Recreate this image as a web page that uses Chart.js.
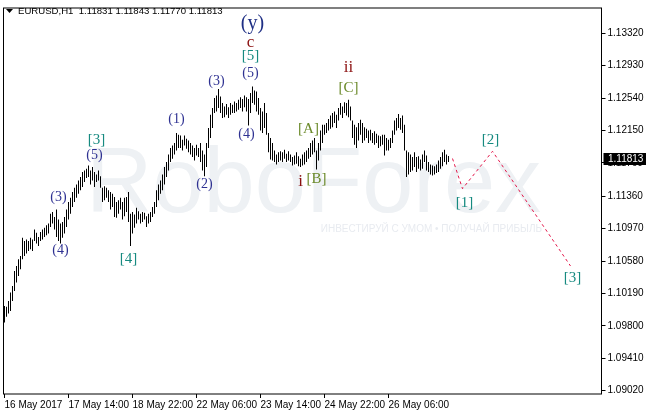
<!DOCTYPE html>
<html>
<head>
<meta charset="utf-8">
<script src="https://cdn.jsdelivr.net/npm/chart.js@4.4.0/dist/chart.umd.min.js"></script>
<style>
html, body { margin: 0; padding: 0; background: #fff; }
#wrap { position: relative; width: 646px; height: 414px; }
</style>
</head>
<body>
<div id="wrap"><canvas id="chart" width="646" height="414"></canvas></div>
<script>
// hourly bars, EURUSD H1
var highs = [
  1.1004, 1.1003, 1.1010, 1.1020, 1.1028, 1.1046, 1.1052, 1.1060, 1.1064, 1.1086,
  1.1082, 1.1084, 1.1082, 1.1086, 1.1084, 1.1096, 1.1092, 1.1087, 1.1093, 1.1096,
  1.1098, 1.1101, 1.1103, 1.1115, 1.1117, 1.1111, 1.1120, 1.1108, 1.1103, 1.1105,
  1.1111, 1.1120, 1.1129, 1.1134, 1.1141, 1.1146, 1.1150, 1.1155, 1.1159, 1.1165,
  1.1167, 1.1169, 1.1173, 1.1167, 1.1171, 1.1165, 1.1162, 1.1167, 1.1160, 1.1146,
  1.1148, 1.1146, 1.1143, 1.1141, 1.1139, 1.1135, 1.1129, 1.1131, 1.1134, 1.1129,
  1.1134, 1.1135, 1.1141, 1.1115, 1.1117, 1.1114, 1.1122, 1.1118, 1.1115, 1.1117,
  1.1116, 1.1112, 1.1115, 1.1117, 1.1123, 1.1129, 1.1143, 1.1150, 1.1155, 1.1162,
  1.1171, 1.1177, 1.1186, 1.1194, 1.1197, 1.1200, 1.1212, 1.1210, 1.1209, 1.1204,
  1.1209, 1.1205, 1.1203, 1.1200, 1.1197, 1.1194, 1.1198, 1.1194, 1.1200, 1.1191,
  1.1186, 1.1200, 1.1218, 1.1234, 1.1242, 1.1254, 1.1257, 1.1265, 1.1256, 1.1248,
  1.1244, 1.1247, 1.1243, 1.1248, 1.1246, 1.1250, 1.1248, 1.1252, 1.1255, 1.1253,
  1.1257, 1.1255, 1.1253, 1.1260, 1.1268, 1.1263, 1.1262, 1.1254, 1.1242, 1.1238,
  1.1248, 1.1236, 1.1212, 1.1206, 1.1200, 1.1191, 1.1186, 1.1189, 1.1190, 1.1189,
  1.1192, 1.1187, 1.1190, 1.1186, 1.1183, 1.1185, 1.1189, 1.1184, 1.1181, 1.1186,
  1.1189, 1.1191, 1.1194, 1.1200, 1.1203, 1.1206, 1.1191, 1.1200, 1.1215, 1.1222,
  1.1222, 1.1224, 1.1229, 1.1233, 1.1236, 1.1238, 1.1234, 1.1242, 1.1248, 1.1244,
  1.1249, 1.1248, 1.1252, 1.1244, 1.1227, 1.1222, 1.1219, 1.1224, 1.1228, 1.1224,
  1.1219, 1.1217, 1.1215, 1.1216, 1.1212, 1.1214, 1.1211, 1.1209, 1.1208, 1.1210,
  1.1210, 1.1206, 1.1204, 1.1206, 1.1215, 1.1227, 1.1230, 1.1235, 1.1230, 1.1233,
  1.1222, 1.1191, 1.1189, 1.1186, 1.1183, 1.1189, 1.1183, 1.1184, 1.1180, 1.1186,
  1.1191, 1.1185, 1.1177, 1.1174, 1.1173, 1.1172, 1.1174, 1.1179, 1.1183, 1.1189,
  1.1192, 1.1186, 1.11843
];
var lows = [
  1.0984, 1.0991, 1.0995, 1.0998, 1.1010, 1.1022, 1.1032, 1.1040, 1.1048, 1.1060,
  1.1064, 1.1067, 1.1070, 1.1072, 1.1070, 1.1082, 1.1079, 1.1076, 1.1082, 1.1084,
  1.1087, 1.1089, 1.1091, 1.1099, 1.1103, 1.1096, 1.1087, 1.1082, 1.1079, 1.1086,
  1.1091, 1.1099, 1.1108, 1.1115, 1.1123, 1.1129, 1.1134, 1.1139, 1.1143, 1.1147,
  1.1153, 1.1158, 1.1159, 1.1150, 1.1155, 1.1147, 1.1153, 1.1155, 1.1146, 1.1129,
  1.1131, 1.1134, 1.1129, 1.1120, 1.1123, 1.1111, 1.1110, 1.1115, 1.1120, 1.1108,
  1.1112, 1.1117, 1.1105, 1.1076, 1.1091, 1.1098, 1.1103, 1.1108, 1.1103, 1.1105,
  1.1108, 1.1099, 1.1103, 1.1105, 1.1111, 1.1115, 1.1123, 1.1131, 1.1139, 1.1143,
  1.1150, 1.1159, 1.1167, 1.1177, 1.1181, 1.1186, 1.1191, 1.1194, 1.1194, 1.1191,
  1.1197, 1.1193, 1.1189, 1.1186, 1.1183, 1.1179, 1.1185, 1.1183, 1.1177, 1.1167,
  1.1160, 1.1171, 1.1194, 1.1206, 1.1218, 1.1236, 1.1238, 1.1242, 1.1236, 1.1230,
  1.1231, 1.1234, 1.1230, 1.1234, 1.1236, 1.1236, 1.1238, 1.1240, 1.1242, 1.1238,
  1.1243, 1.1238, 1.1221, 1.1236, 1.1248, 1.1246, 1.1238, 1.1234, 1.1215, 1.1212,
  1.1218, 1.1210, 1.1189, 1.1180, 1.1179, 1.1177, 1.1174, 1.1177, 1.1179, 1.1177,
  1.1181, 1.1177, 1.1179, 1.1177, 1.1173, 1.1174, 1.1175, 1.1172, 1.1171, 1.1173,
  1.1174, 1.1177, 1.1181, 1.1183, 1.1186, 1.1189, 1.1168, 1.1179, 1.1191, 1.1200,
  1.1210, 1.1212, 1.1215, 1.1217, 1.1219, 1.1224, 1.1218, 1.1227, 1.1234, 1.1230,
  1.1236, 1.1233, 1.1231, 1.1227, 1.1206, 1.1198, 1.1194, 1.1203, 1.1210, 1.1200,
  1.1203, 1.1206, 1.1200, 1.1203, 1.1200, 1.1198, 1.1200, 1.1194, 1.1196, 1.1198,
  1.1185, 1.1191, 1.1191, 1.1194, 1.1200, 1.1210, 1.1215, 1.1218, 1.1216, 1.1212,
  1.1191, 1.1159, 1.1162, 1.1165, 1.1167, 1.1171, 1.1165, 1.1169, 1.1167, 1.1169,
  1.1177, 1.1167, 1.1165, 1.1162, 1.1161, 1.1162, 1.1164, 1.1165, 1.1169, 1.1172,
  1.1177, 1.1174, 1.11770
];
var lastQuote = [1.11831, 1.11843, 1.11770, 1.11813]; // O H L C

var tickLabels = ['16 May 2017', '17 May 14:00', '18 May 22:00', '22 May 06:00',
                  '23 May 14:00', '24 May 22:00', '26 May 06:00'];
var tickStep = 32;
var yTicks = [1.13320, 1.12930, 1.12540, 1.12150, 1.11760, 1.11360,
              1.10970, 1.10580, 1.10190, 1.09800, 1.09410, 1.09020];
var slots = 299;

// forecast path [1] [2] [3]
var forecastIdx = [224, 229, 244, 283];
var forecastVals = [1.11813, 1.1145, 1.1190, 1.1052];

// wave marks: text, bar index, price
var waveText  = ['(3)', '(4)', '[3]', '(5)', '[4]', '(1)', '(2)', '(3)', '(y)', 'c', '[5]', '(5)', '(4)',
                 '[A]', 'i', '[B]', 'ii', '[C]', '[2]', '[1]', '[3]'];
var waveIdx   = [27, 28, 46, 45, 62, 86, 100, 106, 124, 123, 123, 123, 121,
                 152, 148, 156, 172, 172, 243, 230, 284];
var wavePrice = [1.1135, 1.1071, 1.1204, 1.1185, 1.1060, 1.1228, 1.1150, 1.1274, 1.1344, 1.1321, 1.1304, 1.1284, 1.1211,
                 1.1217, 1.1154, 1.1157, 1.1291, 1.1266, 1.1203, 1.1128, 1.1038];

var NAVY = '#2e3192', TEAL = '#168a80', OLIVE = '#6b8a2a', MAROON = '#8b1010';
function waveStyle(t) {
    if (t === '(y)') return { color: '#1f2f85', size: 20 };
    if (t === 'c' || t === 'i' || t === 'ii') return { color: MAROON, size: 17 };
    if (t === '[A]' || t === '[B]' || t === '[C]') return { color: OLIVE, size: 15 };
    if (t.charAt(0) === '[') return { color: TEAL, size: 15 };
    return { color: NAVY, size: 14 };
}

var categories = [];
for (var k = 0; k < slots; k++) categories.push(k);

var ranges = highs.map(function (h, i) { return [lows[i], h]; });
var forecast = categories.map(function () { return null; });
forecastIdx.forEach(function (ix, j) { forecast[ix] = forecastVals[j]; });

var decor = {
    id: 'decor',
    beforeDatasetsDraw: function (chart) {
        var ctx = chart.ctx;
        ctx.save();
        ctx.fillStyle = '#eef1f4';
        ctx.font = '92px "Liberation Sans"';
        ctx.textBaseline = 'alphabetic';
        ctx.textAlign = 'left';
        ctx.fillText('RoboForex', 86, 212);
        ctx.font = '10px "Liberation Sans"';
        ctx.fillStyle = '#e8ebf0';
        ctx.textAlign = 'right';
        ctx.fillText('ИНВЕСТИРУЙ С УМОМ • ПОЛУЧАЙ ПРИБЫЛЬ', 542, 232);
        ctx.restore();
    },
    afterDatasetsDraw: function (chart) {
        var ctx = chart.ctx, xs = chart.scales.x, ys = chart.scales.y;
        ctx.save();
        ctx.textAlign = 'center';
        ctx.textBaseline = 'middle';
        waveText.forEach(function (t, j) {
            var st = waveStyle(t);
            ctx.font = st.size + 'px "Liberation Serif"';
            ctx.fillStyle = st.color;
            ctx.fillText(t, xs.getPixelForValue(waveIdx[j]), ys.getPixelForValue(wavePrice[j]));
        });
        ctx.restore();
    },
    afterDraw: function (chart) {
        var ctx = chart.ctx, a = chart.chartArea, ys = chart.scales.y;
        ctx.save();
        ctx.strokeStyle = '#000';
        ctx.lineWidth = 1;
        ctx.strokeRect(a.left, a.top, a.right - a.left, a.bottom - a.top);

        // current price tag
        var py = Math.round(ys.getPixelForValue(lastQuote[3]));
        ctx.fillStyle = '#000';
        ctx.fillRect(a.right + 2, py - 6, 646 - a.right - 2, 12);
        ctx.fillStyle = '#fff';
        ctx.font = '10px "Liberation Sans"';
        ctx.textBaseline = 'middle';
        ctx.textAlign = 'left';
        ctx.fillText(lastQuote[3].toFixed(5), a.right + 6.5, py);

        // header
        ctx.fillStyle = '#000';
        ctx.beginPath();
        ctx.moveTo(6, 9); ctx.lineTo(13, 9); ctx.lineTo(9.5, 13); ctx.closePath();
        ctx.fill();
        ctx.font = '9.6px "Liberation Sans"';
        ctx.fillText('EURUSD,H1  ' + lastQuote.map(function (v) { return v.toFixed(5); }).join(' '), 18, 11);
        ctx.restore();
    }
};

var tickFont = { family: 'Liberation Sans', size: 10 };

new Chart(document.getElementById('chart').getContext('2d'), {
    type: 'bar',
    data: {
        labels: categories,
        datasets: [{
            type: 'bar',
            data: ranges,
            backgroundColor: '#000',
            borderWidth: 0,
            barThickness: 1,
            inflateAmount: 0,
            grouped: false
        }, {
            type: 'line',
            data: forecast,
            spanGaps: true,
            borderColor: '#e3174a',
            borderWidth: 1,
            borderDash: [3, 3],
            pointRadius: 0,
            fill: false
        }]
    },
    options: {
        responsive: false,
        animation: false,
        devicePixelRatio: 1,
        layout: { padding: { left: 3.5, top: 2.5, right: 0, bottom: 0 } },
        plugins: { legend: { display: false }, tooltip: { enabled: false } },
        scales: {
            x: {
                type: 'category',
                offset: true,
                grid: { display: true, drawOnChartArea: false, tickLength: 4, color: '#000', offset: false },
                border: { display: false },
                ticks: {
                    autoSkip: false,
                    maxRotation: 0,
                    minRotation: 0,
                    align: 'start',
                    labelOffset: 0,
                    padding: 1,
                    color: '#000',
                    font: tickFont,
                    callback: function (v, i) {
                        return (i % tickStep === 0 && tickLabels[i / tickStep]) ? tickLabels[i / tickStep] : null;
                    }
                },
                afterFit: function (s) { s.height = 20; }
            },
            y: {
                type: 'linear',
                position: 'right',
                min: 1.0898,
                max: 1.13624,
                grid: { display: true, drawOnChartArea: false, tickLength: 4, color: '#000' },
                border: { display: false },
                afterBuildTicks: function (s) {
                    s.ticks = yTicks.map(function (v) { return { value: v }; });
                },
                ticks: {
                    color: '#000',
                    font: tickFont,
                    padding: 2,
                    callback: function (v) { return Number(v).toFixed(5); }
                },
                afterFit: function (s) { s.width = 44.5; }
            }
        }
    },
    plugins: [decor]
});
</script>
</body>
</html>
